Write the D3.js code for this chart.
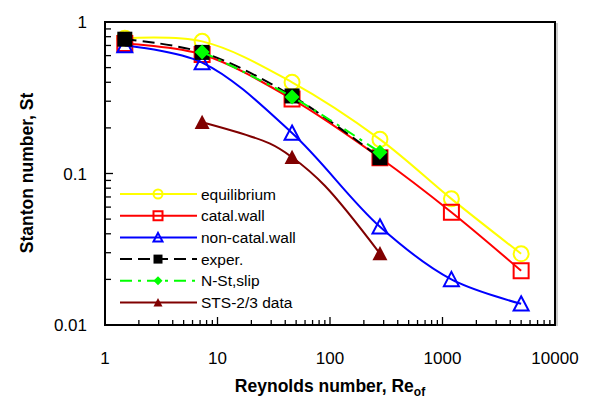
<!DOCTYPE html>
<html>
<head>
<meta charset="utf-8">
<script src="https://cdn.jsdelivr.net/npm/d3@7"></script>
<style>
  body { margin: 0; background: #fff; }
  svg { display: block; font-family: Arial, "Liberation Sans", sans-serif; }
</style>
</head>
<body>
<svg id="chart" width="592" height="402"></svg>
<script>
// data
const reEq    = [1.5, 7.3, 46, 278, 1200, 5000];
const stEq    = [0.78, 0.745, 0.40, 0.168, 0.068, 0.0295];
const reCat   = [1.5, 7.3, 46, 278, 1200, 5000];
const stCat   = [0.72, 0.61, 0.31, 0.127, 0.0555, 0.0228];
const reNon   = [1.5, 7.3, 46, 278, 1200, 5000];
const stNon   = [0.70, 0.54, 0.185, 0.0445, 0.020, 0.0138];
const reExp   = [1.5, 7.3, 46, 278];
const stExp   = [0.77, 0.63, 0.325, 0.127];
const reNSt   = [7.3, 46, 278];
const stNSt   = [0.635, 0.32, 0.138];
const reSts   = [7.3, 46, 278];
const stSts   = [0.218, 0.128, 0.0296];
const reStsLine = [7.3, 29, 46, 90, 278];
const stStsLine = [0.218, 0.158, 0.128, 0.083, 0.0296];

const xTicks = [1, 10, 100, 1000, 10000];
const yTicks = [0.01, 0.1, 1];

const YELLOW = '#ffff00';
const RED    = '#ff0000';
const BLUE   = '#0000ff';
const BLACK  = '#000000';
const GREEN  = '#00ff00';
const MAROON = '#800000';

const series = [
  {name: 'equilibrium',     re: reEq,  st: stEq,  color: YELLOW, dash: null,        marker: 'circle',   fill: '#fff'},
  {name: 'catal.wall',      re: reCat, st: stCat, color: RED,    dash: null,        marker: 'square',   fill: '#fff'},
  {name: 'non-catal.wall',  re: reNon, st: stNon, color: BLUE,   dash: null,        marker: 'triangle', fill: '#fff'},
  {name: 'exper.',          re: reExp, st: stExp, color: BLACK,  dash: '12,6',      marker: 'square',   fill: BLACK},
  {name: 'N-St,slip',       re: reNSt, st: stNSt, color: GREEN,  dash: '12,6,3,6',  marker: 'diamond',  fill: GREEN},
  {name: 'STS-2/3 data',    re: reSts, st: stSts, color: MAROON, dash: null,        marker: 'triangle', fill: MAROON,
   lineRe: reStsLine, lineSt: stStsLine}
];

function draw_chart() {
  const left = 105, right = 555, top = 22, bottom = 325;

  const x = d3.scaleLog().domain([1, 10000]).range([left, right]);
  const y = d3.scaleLog().domain([0.01, 1]).range([bottom, top]);

  const svg = d3.select('#chart');

  const line = d3.line()
      .x(d => x(d[0]))
      .y(d => y(d[1]))
      .curve(d3.curveCatmullRom.alpha(0.5));

  function markerPath(type, size) {
    const h = size / 2;
    if (type === 'square')   return `M${-h},${-h}H${h}V${h}H${-h}Z`;
    if (type === 'triangle') return `M0,${-h}L${h},${h * 0.9}L${-h},${h * 0.9}Z`;
    if (type === 'diamond')  return `M0,${-h}L${h},0L0,${h}L${-h},0Z`;
    return null;
  }

  function addMarker(g, s, cx, cy, size) {
    if (s.marker === 'circle') {
      g.append('circle')
        .attr('cx', cx).attr('cy', cy).attr('r', size / 2)
        .attr('fill', 'none')
        .attr('stroke', s.color)
        .attr('stroke-width', 2);
    } else {
      g.append('path')
        .attr('d', markerPath(s.marker, size))
        .attr('transform', `translate(${cx},${cy})`)
        .attr('fill', s.fill === '#fff' ? 'none' : s.fill)
        .attr('stroke', s.fill === '#fff' ? s.color : 'none')
        .attr('stroke-width', 2);
    }
  }

  // ticks (inward) on left and bottom
  const gAxis = svg.append('g').attr('stroke', BLACK).attr('stroke-width', 1.3);
  const xMinor = [];
  const yMinor = [];
  for (let p = 0; p < 4; p++) for (let k = 2; k <= 9; k++) xMinor.push(k * Math.pow(10, p));
  for (let p = -2; p < 0; p++) for (let k = 2; k <= 9; k++) yMinor.push(k * Math.pow(10, p));

  gAxis.selectAll('line.xmin').data(xMinor).join('line')
    .attr('x1', d => x(d)).attr('x2', d => x(d))
    .attr('y1', bottom).attr('y2', bottom - 5);
  gAxis.selectAll('line.xmaj').data(xTicks).join('line')
    .attr('x1', d => x(d)).attr('x2', d => x(d))
    .attr('y1', bottom).attr('y2', bottom - 8);
  gAxis.selectAll('line.ymin').data(yMinor).join('line')
    .attr('y1', d => y(d)).attr('y2', d => y(d))
    .attr('x1', left).attr('x2', left + 6);
  gAxis.selectAll('line.ymaj').data(yTicks).join('line')
    .attr('y1', d => y(d)).attr('y2', d => y(d))
    .attr('x1', left).attr('x2', left + 8);

  // plot frame
  svg.append('rect')
    .attr('x', left).attr('y', top)
    .attr('width', right - left).attr('height', bottom - top)
    .attr('fill', 'none')
    .attr('stroke', BLACK)
    .attr('stroke-width', 2);
  svg.append('line')
    .attr('x1', right + 2).attr('x2', right + 2)
    .attr('y1', top + 1).attr('y2', bottom + 1)
    .attr('stroke', '#999').attr('stroke-width', 1);

  // tick labels
  svg.append('g').selectAll('text').data(xTicks).join('text')
    .attr('x', d => x(d))
    .attr('y', 364)
    .attr('text-anchor', 'middle')
    .attr('font-size', 17)
    .text(d => d3.format('d')(d));

  svg.append('g').selectAll('text').data(yTicks).join('text')
    .attr('x', 87)
    .attr('y', d => y(d) + 6)
    .attr('text-anchor', 'end')
    .attr('font-size', 17)
    .text(d => d);

  // axis titles
  const xt = svg.append('text')
    .attr('x', 330).attr('y', 392)
    .attr('text-anchor', 'middle')
    .attr('font-size', 17.5)
    .attr('font-weight', 'bold');
  xt.append('tspan').text('Reynolds number, Re');
  xt.append('tspan').attr('font-size', 12).attr('dy', 4).text('of');

  svg.append('text')
    .attr('transform', 'translate(33,173) rotate(-90)')
    .attr('text-anchor', 'middle')
    .attr('font-size', 17.5)
    .attr('font-weight', 'bold')
    .text('Stanton number, St');

  // series
  const gSeries = svg.append('g');
  series.forEach(s => {
    const g = gSeries.append('g');
    const lx = s.lineRe || s.re;
    const ly = s.lineSt || s.st;
    g.append('path')
      .attr('d', line(d3.zip(lx, ly)))
      .attr('fill', 'none')
      .attr('stroke', s.color)
      .attr('stroke-width', 2)
      .attr('stroke-dasharray', s.dash);
    s.re.forEach((r, i) => addMarker(g, s, x(r), y(s.st[i]), 15));
  });

  // legend
  const gLeg = svg.append('g');
  series.forEach((s, i) => {
    const ly = 194 + i * 21.7;
    const g = gLeg.append('g');
    g.append('line')
      .attr('x1', 120).attr('x2', 197)
      .attr('y1', ly).attr('y2', ly)
      .attr('stroke', s.color)
      .attr('stroke-width', 2)
      .attr('stroke-dasharray', s.dash);
    addMarker(g, s, 158, ly, 9);
    g.append('text')
      .attr('x', 201).attr('y', ly + 5.5)
      .attr('font-size', 15.5)
      .text(s.name);
  });
}

draw_chart();
</script>
</body>
</html>
